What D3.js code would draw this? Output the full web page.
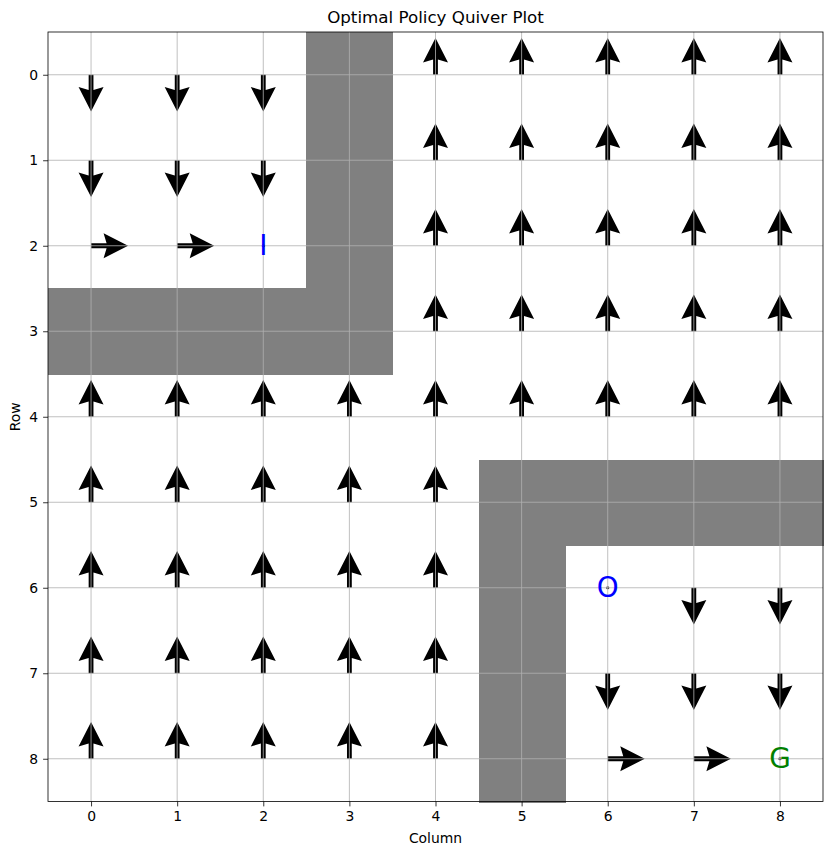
<!DOCTYPE html>
<html><head><meta charset="utf-8">
<script src="https://cdn.jsdelivr.net/npm/d3@7"></script>
<style>body{margin:0;background:#fff}svg{display:block}text{font-family:"DejaVu Sans",sans-serif}</style>
</head><body>
<svg id="chart" width="833" height="855"></svg>
<script>
const title = "Optimal Policy Quiver Plot";
const xLabel = "Column";
const yLabel = "Row";
const rows = [0,1,2,3,4,5,6,7,8];
const cols = [0,1,2,3,4,5,6,7,8];
// policy per row: D=down, U=up, R=right, W=wall, I/O/G = labelled cells
const policy = [
  "DDDWUUUUU",
  "DDDWUUUUU",
  "RRIWUUUUU",
  "WWWWUUUUU",
  "UUUUUUUUU",
  "UUUUUWWWW",
  "UUUUUWODD",
  "UUUUUWDDD",
  "UUUUUWRRG"
];
const labels = [
  {row:2, col:2, text:"I", color:"blue"},
  {row:6, col:6, text:"O", color:"blue"},
  {row:8, col:8, text:"G", color:"green"}
];
const dirs = {U:[0,-1], D:[0,1], R:[1,0], L:[-1,0]};
const arrowLen = 0.43; // in cell units

const svg = d3.select("#chart");
const L = 48, R = 823, T = 32, B = 801.5;
const x = d3.scaleLinear().domain([-0.5, 8.5]).range([L, R]);
const y = d3.scaleLinear().domain([-0.5, 8.5]).range([T, B]);

// walls
const cells = [];
policy.forEach((s, r) => s.split("").forEach((ch, c) => cells.push({r, c, ch})));
svg.append("g").attr("shape-rendering", "crispEdges")
  .selectAll("rect").data(cells.filter(d => d.ch === "W")).join("rect")
  .attr("x", d => Math.round(x(d.c - 0.5))).attr("y", d => Math.round(y(d.r - 0.5)))
  .attr("width", d => Math.round(x(d.c + 0.5)) - Math.round(x(d.c - 0.5)) + 1)
  .attr("height", d => Math.round(y(d.r + 0.5)) - Math.round(y(d.r - 0.5)) + 1)
  .attr("fill", "#808080");

// arrows
function arrowPath(len) {
  const hw = 2.4, hh = 12.5, hl = 24.5, hal = 21.5;
  return `M0,${-hw}L${len-hal},${-hw}L${len-hl},${-hh}L${len},0L${len-hl},${hh}L${len-hal},${hw}L0,${hw}Z`;
}
const arrows = cells.filter(d => dirs[d.ch]);
svg.append("g").selectAll("path").data(arrows).join("path")
  .attr("d", d => {
    const [dx, dy] = dirs[d.ch];
    const x0 = x(d.c), y0 = y(d.r);
    const x1 = x(d.c + dx*arrowLen), y1 = y(d.r + dy*arrowLen);
    return arrowPath(Math.hypot(x1-x0, y1-y0));
  })
  .attr("transform", d => {
    const [dx, dy] = dirs[d.ch];
    const ang = Math.atan2(y(d.r+dy) - y(d.r), x(d.c+dx) - x(d.c)) * 180/Math.PI;
    return `translate(${x(d.c)},${y(d.r)}) rotate(${ang})`;
  })
  .attr("fill", "black");

// zero-length arrows at labelled cells
svg.append("g").selectAll("circle").data(labels).join("circle")
  .attr("cx", d => x(d.col)).attr("cy", d => y(d.row)).attr("r", 1.6).attr("fill", "#222");

// grid
const grid = svg.append("g").attr("stroke", "#b0b0b0").attr("stroke-width", 0.8);
grid.selectAll(".gx").data(cols).join("line").attr("x1", d => x(d)).attr("x2", d => x(d)).attr("y1", T).attr("y2", B);
grid.selectAll(".gy").data(rows).join("line").attr("y1", d => y(d)).attr("y2", d => y(d)).attr("x1", L).attr("x2", R);

// labels
svg.append("g").selectAll("text").data(labels).join("text")
  .attr("x", d => x(d.col)).attr("y", d => y(d.row))
  .attr("text-anchor", "middle").attr("dominant-baseline", "central")
  .attr("font-size", "27.8px").attr("fill", d => d.color).text(d => d.text);

// axes
const xAxis = d3.axisBottom(x).tickValues(cols).tickSize(4.9).tickPadding(4.9).tickFormat(d3.format("d"));
const yAxis = d3.axisLeft(y).tickValues(rows).tickSize(4.9).tickPadding(4.9).tickFormat(d3.format("d"));
const gx = svg.append("g").attr("transform", `translate(0,${B})`).call(xAxis);
const gy = svg.append("g").attr("transform", `translate(${L},0)`).call(yAxis);
[gx, gy].forEach(g => {
  g.select(".domain").remove();
  g.selectAll("text").attr("font-size", "13.9px").attr("fill", "#000").attr("font-family", "DejaVu Sans");
  g.selectAll("line").attr("stroke", "#000").attr("stroke-width", 0.8);
});
svg.append("rect").attr("x", L).attr("y", T).attr("width", R-L).attr("height", B-T)
  .attr("fill", "none").attr("stroke", "#000").attr("stroke-width", 0.8);

svg.append("text").attr("x", (L+R)/2).attr("y", 23).attr("text-anchor", "middle")
  .attr("font-size", "16.7px").text(title);
svg.append("text").attr("x", (L+R)/2).attr("y", 843).attr("text-anchor", "middle")
  .attr("font-size", "13.9px").text(xLabel);
svg.append("text").attr("transform", `translate(20,${(T+B)/2}) rotate(-90)`).attr("text-anchor", "middle")
  .attr("font-size", "13.9px").text(yLabel);
</script>
</body></html>
